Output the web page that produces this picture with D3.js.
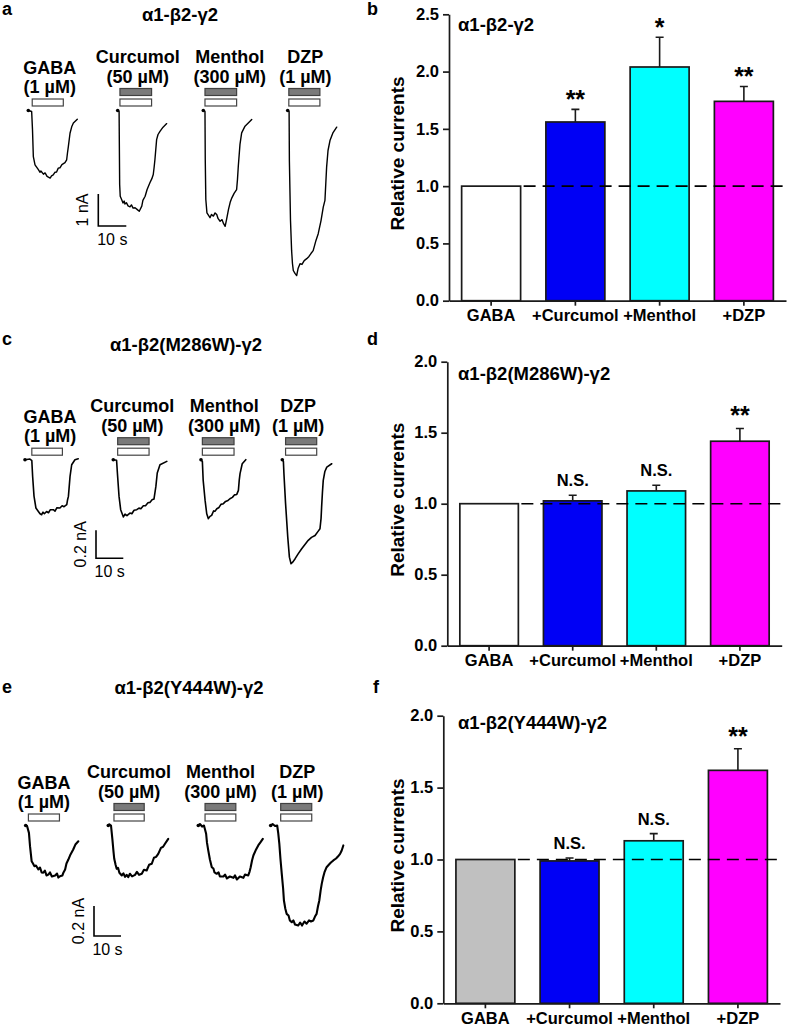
<!DOCTYPE html>
<html><head><meta charset="utf-8">
<script src="https://cdn.jsdelivr.net/npm/d3@7"></script>
<style>html,body{margin:0;padding:0;background:#fff;}svg{display:block;}</style>
</head><body>
<svg id="fig" width="787" height="1027"></svg>
<script>
// ---------------- DATA ----------------
const barCategories = ["GABA", "+Curcumol", "+Menthol", "+DZP"];
const panelTitles = ["α1-β2-γ2", "α1-β2(M286W)-γ2", "α1-β2(Y444W)-γ2"];
const drugNames = ["GABA", "Curcumol", "Menthol", "DZP"];
const drugConc = ["(1 µM)", "(50 µM)", "(300 µM)", "(1 µM)"];

const meanB = [1.00, 1.56, 2.04, 1.74];
const semB  = [0, 0.11, 0.26, 0.13];
const sigB  = ["", "**", "*", "**"];
const meanD = [1.00, 1.02, 1.09, 1.44];
const semD  = [0, 0.04, 0.04, 0.09];
const sigD  = ["", "N.S.", "N.S.", "**"];
const meanF = [1.00, 0.99, 1.13, 1.62];
const semF  = [0, 0.02, 0.05, 0.15];
const sigF  = ["", "N.S.", "N.S.", "**"];
const yTicksB = [0, 0.5, 1.0, 1.5, 2.0, 2.5];
const yTicksDF = [0, 0.5, 1.0, 1.5, 2.0];
const colorsBD = ["#ffffff", "#0000f5", "#00ffff", "#ff00ff"];
const colorsF  = ["#c0c0c0", "#0000f5", "#00ffff", "#ff00ff"];

// current traces: [time (s), current (nA)]
const traceA_GABA = [[0,0],[1.2,-0.03],[1.5,-0.6],[1.8,-1.44],[2.4,-1.7],[3.6,-1.85],[4.2,-1.93],[4.5,-1.89],[5.4,-1.99],[6.0,-1.95],[6.7,-2.06],[7.8,-2.11],[8.3,-2.04],[8.9,-2.01],[9.5,-1.93],[10.1,-1.92],[10.7,-1.8],[11.3,-1.79],[12.0,-1.69],[13.1,-1.63],[13.7,-1.54],[14.0,-1.32],[14.3,-1.13],[14.9,-0.71],[15.5,-0.51],[16.1,-0.39],[17.5,-0.27]];
const traceA_Curc = [[0,0],[0.5,-0.03],[0.6,-1.22],[0.7,-2.31],[0.9,-2.68],[1.4,-2.78],[1.9,-2.89],[2.3,-2.83],[2.6,-2.92],[3.1,-2.88],[3.7,-2.98],[4.4,-3.01],[4.9,-2.95],[5.5,-3.05],[6.2,-3.04],[6.9,-3.09],[7.7,-3.15],[8.6,-2.99],[9.0,-2.81],[9.8,-2.68],[10.5,-2.47],[11.5,-2.26],[12.2,-2.13],[12.7,-2.0],[13.0,-1.78],[13.3,-1.53],[13.9,-0.91],[14.4,-0.75],[15.1,-0.65],[16.2,-0.52],[17.5,-0.41]];
const traceA_Ment = [[0,0],[0.6,-0.03],[0.7,-1.53],[0.9,-2.78],[1.3,-3.2],[2.4,-3.35],[2.9,-3.25],[3.6,-3.3],[4.2,-3.2],[4.8,-3.25],[5.3,-3.38],[6.0,-3.46],[6.7,-3.41],[7.2,-3.53],[7.8,-3.62],[8.3,-3.41],[9.0,-3.09],[9.6,-2.87],[10.2,-2.73],[11.0,-2.59],[11.9,-2.47],[12.2,-2.16],[12.5,-1.74],[13.1,-1.06],[13.7,-0.7],[14.9,-0.49],[17.3,-0.28]];
const traceA_DZP  = [[0,0],[0.5,-0.03],[0.6,-1.56],[1.0,-3.44],[1.4,-4.38],[1.7,-4.78],[2.0,-5.0],[2.6,-5.09],[3.2,-5.16],[3.7,-4.94],[4.4,-4.79],[5.1,-4.81],[5.9,-4.69],[6.8,-4.63],[7.6,-4.56],[8.3,-4.47],[9.1,-4.38],[10.1,-4.06],[10.9,-3.85],[11.9,-3.44],[12.7,-3.02],[13.3,-2.81],[13.9,-1.77],[14.4,-1.25],[15.1,-0.94],[16.2,-0.69],[17.5,-0.52]];

const traceC_GABA = [[0,0],[1.8,0.005],[2.5,-0.007],[2.8,-0.12],[3.3,-0.26],[4.0,-0.345],[4.9,-0.37],[5.5,-0.386],[6.1,-0.393],[6.6,-0.375],[7.1,-0.386],[7.9,-0.37],[8.6,-0.379],[9.3,-0.357],[10.4,-0.357],[11.0,-0.368],[11.7,-0.343],[12.8,-0.345],[13.6,-0.329],[14.3,-0.336],[15.3,-0.321],[15.6,-0.286],[15.9,-0.262],[16.5,-0.119],[17.1,-0.036],[18.3,0],[19.5,0.007]];
const traceC_Curc = [[0,0],[1.2,-0.004],[1.5,-0.095],[2.1,-0.262],[2.7,-0.357],[3.7,-0.409],[4.3,-0.389],[5.0,-0.4],[6.1,-0.381],[6.8,-0.386],[7.6,-0.361],[8.6,-0.357],[9.4,-0.346],[10.1,-0.35],[11.0,-0.329],[11.8,-0.329],[12.7,-0.307],[13.4,-0.305],[14.2,-0.286],[14.9,-0.281],[15.6,-0.191],[16.1,-0.095],[17.1,-0.036],[19.6,-0.012]];
const traceC_Ment = [[0,0],[0.5,-0.012],[0.8,-0.148],[1.5,-0.291],[2.1,-0.386],[2.7,-0.421],[3.3,-0.405],[3.9,-0.398],[4.6,-0.366],[5.1,-0.369],[5.8,-0.35],[6.6,-0.341],[7.3,-0.319],[8.2,-0.314],[9.0,-0.298],[9.9,-0.291],[10.6,-0.279],[11.5,-0.269],[12.3,-0.251],[13.1,-0.248],[13.7,-0.219],[14.0,-0.148],[14.3,-0.1],[15.1,-0.029],[16.4,0]];
const traceC_DZP  = [[0,0],[0.4,-0.012],[0.6,-0.1],[1.2,-0.314],[2.0,-0.553],[2.6,-0.696],[3.2,-0.743],[3.9,-0.73],[4.7,-0.707],[5.8,-0.673],[7.1,-0.636],[8.3,-0.605],[9.5,-0.576],[10.7,-0.555],[12.0,-0.541],[13.1,-0.512],[13.8,-0.493],[14.2,-0.419],[14.4,-0.339],[14.7,-0.234],[15.0,-0.148],[15.6,-0.084],[16.3,-0.053],[18.1,-0.029]];

const traceE_GABA = [[0,0],[0.5,-0.003],[1.2,-0.049],[1.6,-0.138],[2.2,-0.238],[2.7,-0.253],[3.2,-0.271],[3.8,-0.267],[4.7,-0.293],[5.3,-0.28],[5.9,-0.313],[6.5,-0.315],[7.1,-0.3],[7.7,-0.333],[8.4,-0.327],[9.0,-0.313],[9.7,-0.34],[10.9,-0.333],[11.6,-0.32],[12.1,-0.347],[12.7,-0.338],[13.6,-0.333],[14.0,-0.313],[14.6,-0.293],[15.1,-0.253],[15.8,-0.227],[16.6,-0.193],[17.6,-0.16],[18.4,-0.127],[19.5,-0.105]];
const traceE_Curc = [[0,0],[0.4,0.008],[1.0,0],[1.5,-0.089],[1.9,-0.169],[2.2,-0.222],[2.7,-0.262],[3.1,-0.289],[3.6,-0.282],[4.1,-0.315],[5.0,-0.333],[5.6,-0.319],[6.2,-0.342],[6.8,-0.329],[7.4,-0.344],[8.0,-0.322],[8.8,-0.339],[9.9,-0.329],[10.6,-0.309],[11.4,-0.329],[12.4,-0.322],[13.2,-0.295],[14.2,-0.3],[15.1,-0.262],[16.1,-0.255],[16.9,-0.215],[17.7,-0.209],[18.5,-0.189],[19.5,-0.149],[20.3,-0.142],[21.0,-0.122],[22.2,-0.089]];
const traceE_Ment = [[0,0],[0.6,0.01],[1.4,-0.007],[2.1,0],[2.9,-0.055],[3.2,-0.113],[3.7,-0.167],[4.3,-0.227],[5.0,-0.278],[5.6,-0.287],[6.0,-0.313],[6.8,-0.322],[7.5,-0.313],[8.0,-0.34],[9.3,-0.34],[9.9,-0.327],[10.6,-0.353],[11.7,-0.34],[13.0,-0.349],[13.6,-0.333],[14.3,-0.36],[15.4,-0.34],[16.7,-0.349],[17.3,-0.327],[18.5,-0.333],[19.0,-0.307],[19.4,-0.278],[19.9,-0.233],[20.4,-0.2],[21.2,-0.167],[22.2,-0.133],[23.0,-0.113],[23.9,-0.089]];
const traceE_DZP  = [[0,0],[0.7,0.01],[1.6,-0.003],[2.4,0],[2.8,-0.053],[3.2,-0.122],[3.6,-0.22],[4.1,-0.322],[4.6,-0.42],[4.9,-0.5],[5.4,-0.553],[5.9,-0.589],[6.6,-0.6],[7.1,-0.633],[7.8,-0.645],[8.4,-0.633],[9.0,-0.66],[10.2,-0.667],[10.9,-0.647],[11.6,-0.667],[12.5,-0.64],[13.3,-0.655],[14.2,-0.633],[14.9,-0.64],[15.8,-0.633],[16.4,-0.607],[17.0,-0.589],[17.5,-0.54],[18.0,-0.5],[18.5,-0.433],[18.9,-0.389],[19.4,-0.347],[19.9,-0.313],[20.7,-0.278],[21.6,-0.26],[22.3,-0.247],[23.2,-0.233],[24.2,-0.22],[24.9,-0.207],[25.7,-0.189],[26.3,-0.167],[26.9,-0.133]];

// drug application windows [on, off] in s (relative to trace start)
const appA = [[1.4, 12.5], [0.8, 12.1], [0.6, 11.9], [0.4, 11.5]];
const appC = [[2.5, 13.7], [1.6, 13.1], [0.5, 12.1], [1.2, 12.6]];
const appE = [[1.0, 12.5], [2.1, 13.3], [2.5, 13.9], [3.7, 15.2]];
// scale bars: time (s), current (nA)
const scaleBarTime = 10;
const scaleBarCurA = 1, scaleBarCurC = 0.2, scaleBarCurE = 0.2;

// ---------------- DRAWING ----------------
const FONT = "'Liberation Sans', Arial, Helvetica, sans-serif";
const svg = d3.select("#fig");

function txt(g, x, y, s, size, weight, anchor) {
  return g.append("text").attr("x", x).attr("y", y).text(s)
    .attr("font-family", FONT).attr("font-size", size)
    .attr("font-weight", weight || "bold").attr("text-anchor", anchor || "start")
    .attr("fill", "#000");
}

// ---- trace panels ----
function tracePanel(cfg) {
  const g = svg.append("g");
  txt(g, cfg.titleX, cfg.titleY, cfg.title, 18.5, "bold", "middle");
  cfg.traces.forEach((tr, k) => {
    const x = d3.scaleLinear().domain([0, 1]).range([cfg.ox[k], cfg.ox[k] + cfg.pxs]);
    const y = d3.scaleLinear().domain([0, 1]).range([cfg.oy, cfg.oy - cfg.pxn]);
    const line = d3.line().x(d => x(d[0])).y(d => y(d[1]));
    g.append("path").datum(tr).attr("d", line).attr("fill", "none")
      .attr("stroke", "#000").attr("stroke-width", cfg.sw)
      .attr("stroke-linejoin", "round").attr("stroke-linecap", "round");
    g.append("circle").attr("cx", x(tr[0][0])).attr("cy", y(tr[0][1])).attr("r", 1.8).attr("fill", "#000");
    // application bars
    const ap = cfg.app[k];
    const bx = x(ap[0]), bw = x(ap[1]) - x(ap[0]);
    const whiteTop = cfg.oy - 11.5;
    g.append("rect").attr("x", bx).attr("y", whiteTop).attr("width", bw).attr("height", 7)
      .attr("fill", "#fff").attr("stroke", "#444").attr("stroke-width", 1.2);
    let labelTop = whiteTop;
    if (k > 0) {
      const grayTop = whiteTop - 10.5;
      g.append("rect").attr("x", bx).attr("y", grayTop).attr("width", bw).attr("height", 7)
        .attr("fill", "#7a7a7a").attr("stroke", "#404040").attr("stroke-width", 1.2);
      labelTop = grayTop;
    }
    const cx = bx + bw / 2 + cfg.ldx[k];
    txt(g, cx, labelTop - 6, drugConc[k], 18, "bold", "middle");
    txt(g, cx, labelTop - 25.5, drugNames[k], 18, "bold", "middle");
  });
  // scale bar
  const sx = d3.scaleLinear().domain([0, 1]).range([0, cfg.pxs]);
  const sy = d3.scaleLinear().domain([0, 1]).range([0, cfg.pxn]);
  const cx0 = cfg.sbx, cy0 = cfg.sby;
  g.append("path").attr("d", `M${cx0},${cy0 - sy(cfg.sbCur)}V${cy0}H${cx0 + sx(scaleBarTime)}`)
    .attr("fill", "none").attr("stroke", "#000").attr("stroke-width", 1.6);
  txt(g, 0, 0, cfg.sbCur + " nA", 16, "normal", "middle")
    .attr("transform", `translate(${cx0 - 10},${cy0 - sy(cfg.sbCur) / 2}) rotate(-90)`);
  txt(g, cx0 + sx(scaleBarTime) / 2, cy0 + 19, scaleBarTime + " s", 16, "normal", "middle");
}

tracePanel({title: panelTitles[0], titleX: 180, titleY: 21, traces: [traceA_GABA, traceA_Curc, traceA_Ment, traceA_DZP],
  app: appA, ox: [28.3, 117.7, 203.3, 287.7], oy: 110.5, pxs: 2.8, pxn: 32, sw: 1.4,
  ldx: [2, 2, 9, 1], sbx: 98.3, sby: 226, sbCur: scaleBarCurA});
tracePanel({title: panelTitles[1], titleX: 186, titleY: 351, traces: [traceC_GABA, traceC_Curc, traceC_Ment, traceC_DZP],
  app: appC, ox: [25, 113.3, 201, 282.3], oy: 459.7, pxs: 2.73, pxn: 140, sw: 1.6,
  ldx: [3, -1, 6, -3], sbx: 96, sby: 558.3, sbCur: scaleBarCurC});
tracePanel({title: panelTitles[2], titleX: 189, titleY: 694, traces: [traceE_GABA, traceE_Curc, traceE_Ment, traceE_DZP],
  app: appE, ox: [25.7, 108.3, 198.3, 270.7], oy: 825.5, pxs: 2.7, pxn: 150, sw: 2.1,
  ldx: [0, 0, 0, 1], sbx: 94, sby: 936, sbCur: scaleBarCurE});

// ---- bar panels ----
function barPanel(cfg) {
  const g = svg.append("g");
  const x = d3.scaleBand().domain(barCategories).range([cfg.left, cfg.right]).paddingInner(0.3).paddingOuter(0.15);
  const y = d3.scaleLinear().domain([0, cfg.ymax]).range([cfg.bottom, cfg.top]);
  const data = barCategories.map((c, i) => ({c, m: cfg.mean[i], s: cfg.sem[i], sig: cfg.sig[i], col: cfg.colors[i]}));

  g.selectAll("rect.bar").data(data).enter().append("rect")
    .attr("x", d => x(d.c)).attr("y", d => y(d.m)).attr("width", x.bandwidth())
    .attr("height", d => y(0) - y(d.m)).attr("fill", d => d.col)
    .attr("stroke", "#1a1a1a").attr("stroke-width", 1.7);

  // error bars
  data.filter(d => d.s > 0).forEach(d => {
    const cx = x(d.c) + x.bandwidth() / 2;
    g.append("path").attr("d", `M${cx},${y(d.m)}V${y(d.m + d.s)}M${cx - 4},${y(d.m + d.s)}H${cx + 4}`)
      .attr("stroke", "#1a1a1a").attr("stroke-width", 1.6).attr("fill", "none");
    if (d.sig === "N.S.") txt(g, cx, y(d.m + d.s) - 9, d.sig, 16.5, "bold", "middle");
    else if (d.sig) txt(g, cx, y(d.m + d.s) - cfg.starOff + 12, d.sig, 25, "bold", "middle");
  });

  // dashed reference line
  g.append("line").attr("x1", x("GABA") + x.bandwidth() + 3).attr("x2", cfg.right)
    .attr("y1", y(1)).attr("y2", y(1)).attr("stroke", "#000").attr("stroke-width", 1.6)
    .attr("stroke-dasharray", "12,7");

  const yAx = g.append("g").attr("transform", `translate(${cfg.left},0)`)
    .call(d3.axisLeft(y).tickValues(cfg.ticks).tickFormat(d3.format(".1f")).tickSize(6).tickSizeOuter(0).tickPadding(4));
  const xAx = g.append("g").attr("transform", `translate(0,${cfg.bottom})`)
    .call(d3.axisBottom(x).tickSize(5).tickSizeOuter(0).tickPadding(3));
  [yAx, xAx].forEach(a => {
    a.selectAll("path,line").attr("stroke", "#1a1a1a").attr("stroke-width", 1.7);
    a.selectAll("text").attr("font-family", FONT).attr("font-size", 16.5).attr("font-weight", "bold").attr("fill", "#000");
  });
  xAx.selectAll("text").attr("dy", "0.76em");

  txt(g, 0, 0, "Relative currents", 19, "bold", "middle")
    .attr("transform", `translate(404,${(cfg.top + cfg.bottom) / 2 - 4}) rotate(-90)`);
  txt(g, 458, cfg.titleY, cfg.title, 18.5, "bold", "start");
}

barPanel({left: 449, right: 786, top: 14.3, bottom: 300.7, ymax: 2.5, ticks: yTicksB,
  mean: meanB, sem: semB, sig: sigB, colors: colorsBD, title: panelTitles[0], titleY: 31, starOff: 13});
barPanel({left: 447.3, right: 781.7, top: 361.7, bottom: 645.7, ymax: 2.0, ticks: yTicksDF,
  mean: meanD, sem: semD, sig: sigD, colors: colorsBD, title: panelTitles[1], titleY: 380, starOff: 16});
barPanel({left: 443.3, right: 780, top: 715.7, bottom: 1003.3, ymax: 2.0, ticks: yTicksDF,
  mean: meanF, sem: semF, sig: sigF, colors: colorsF, title: panelTitles[2], titleY: 729, starOff: 16});

// panel letters
[["a", 2, 15], ["b", 367, 15], ["c", 2, 345], ["d", 367, 345], ["e", 2, 693], ["f", 373, 693]]
  .forEach(p => txt(svg, p[1], p[2], p[0], 18, "bold", "start"));
</script>
</body></html>
